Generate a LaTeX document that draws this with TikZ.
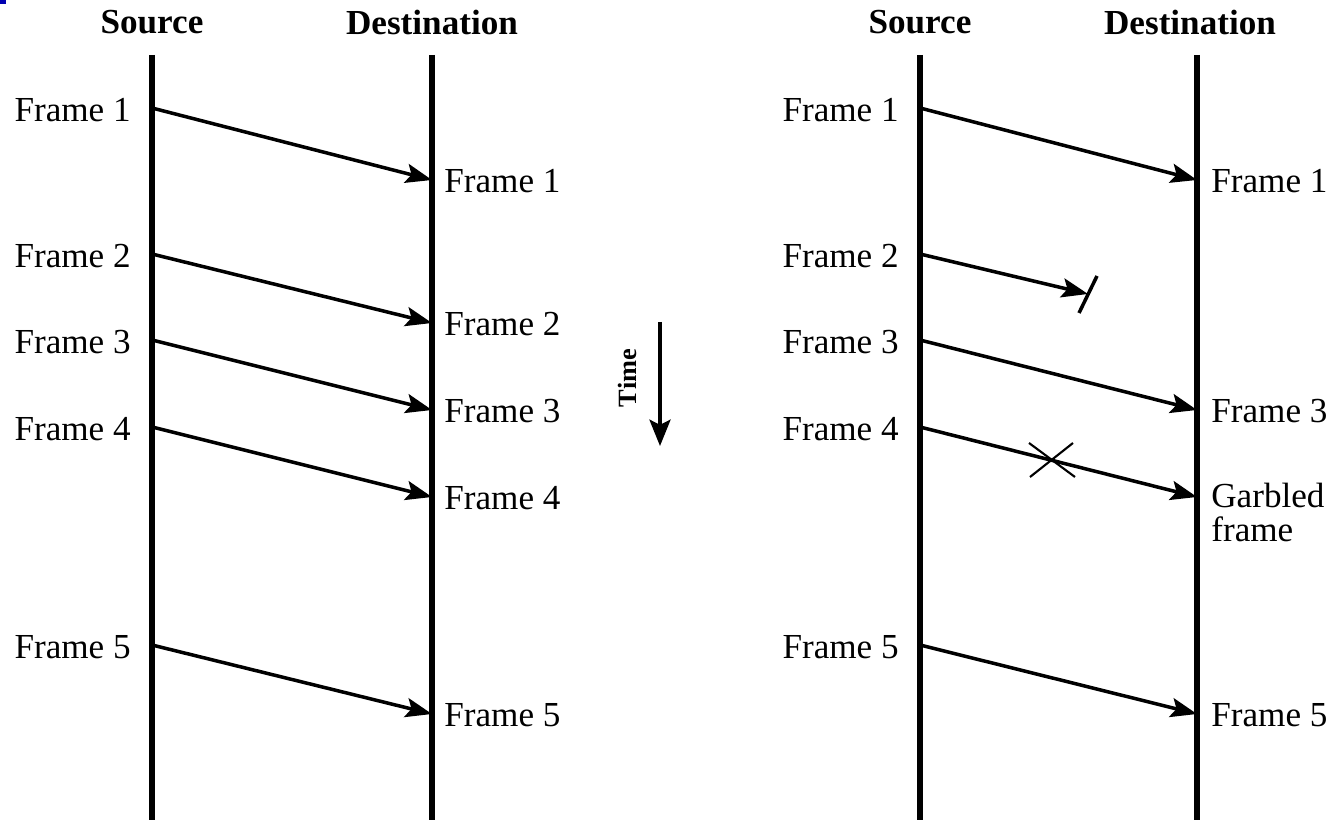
\documentclass[tikz,border=0pt]{standalone}
\usepackage{fontspec}
\setmainfont{Liberation Serif}
\usetikzlibrary{arrows.meta}

\begin{document}
\begin{tikzpicture}[x=0.02cm,y=-0.02cm,
  lane/.style={line width=3.2pt},
  msg/.style={line width=2pt,-{Stealth[length=15pt,width=11pt,inset=3pt]}},
  lbl/.style={font=\fontsize{20}{19}\selectfont,inner sep=0pt},
  head/.style={font=\fontsize{20}{24}\selectfont\bfseries,inner sep=0pt}]
\useasboundingbox (0,0) rectangle (1333,820);
\fill[blue!70!black] (0,0) rectangle (6,4);

% column headings
\path (152,22) node[head](srcA) {Source}
      (432,22) node[head](dstA) {Destination}
      (920,22) node[head](srcB) {Source}
      (1190,22) node[head](dstB) {Destination};

% time lines
\coordinate (srcAtop) at (152,55);  \coordinate (srcAbot) at (152,822);
\coordinate (dstAtop) at (432,55);  \coordinate (dstAbot) at (432,822);
\coordinate (srcBtop) at (920,55);  \coordinate (srcBbot) at (920,822);
\coordinate (dstBtop) at (1197,55); \coordinate (dstBbot) at (1197,822);
\draw[lane] (srcAtop) -- (srcAbot);
\draw[lane] (dstAtop) -- (dstAbot);
\draw[lane] (srcBtop) -- (srcBbot);
\draw[lane] (dstBtop) -- (dstBbot);

% left: every frame gets through
\foreach \i/\ys/\yd in {1/108/180,2/254/323,3/340/410,4/427/497,5/645/714}{
  \coordinate (a\i) at (152,\ys);
  \coordinate (b\i) at (432,\yd);
  \node[lbl,anchor=east] (sendA\i) at (131,\ys+2) {Frame \i};
  \node[lbl,anchor=west] (recvA\i) at (444,\yd+1) {Frame \i};
  \draw[msg] (a\i) -- (b\i);
}

% right: frame 2 lost, frame 4 damaged
\foreach \i/\ys in {1/108,2/254,3/340,4/427,5/645}{
  \coordinate (c\i) at (920,\ys);
  \node[lbl,anchor=east] (sendB\i) at (899,\ys+2) {Frame \i};
}
\coordinate (d1) at (1197,180);
\coordinate (d2) at (1088,294);
\coordinate (d3) at (1197,410);
\coordinate (d4) at (1197,497);
\coordinate (d5) at (1197,714);
\node[lbl,anchor=west] (recvB1) at (1211,181) {Frame 1};
\node[lbl,anchor=west] (recvB3) at (1211,411) {Frame 3};
\node[lbl,anchor=west] (recvB5) at (1211,715) {Frame 5};
\node[lbl,anchor=north west,align=left] (recvB4) at (1211,483) {Garbled\\frame};
\foreach \i in {1,...,5}{
  \draw[msg] (c\i) -- (d\i);
}
\coordinate (cutT) at (1097,276);
\coordinate (cutB) at (1079,313);
\draw[line width=2pt] (cutT) -- (cutB);
\coordinate (xa) at (1029,443); \coordinate (xb) at (1075,477);
\coordinate (xc) at (1073,443); \coordinate (xd) at (1030,477);
\draw[line width=1.2pt] (xa) -- (xb) (xc) -- (xd);

% time axis
\coordinate (tTop) at (660,322);
\coordinate (tBot) at (660,446);
\node[font=\fontsize{15}{16}\selectfont\bfseries,rotate=90] (time) at (627,378) {Time};
\draw[line width=2pt,-{Stealth[length=15pt,width=12pt,inset=3pt]}] (tTop) -- (tBot);
\end{tikzpicture}
\end{document}
